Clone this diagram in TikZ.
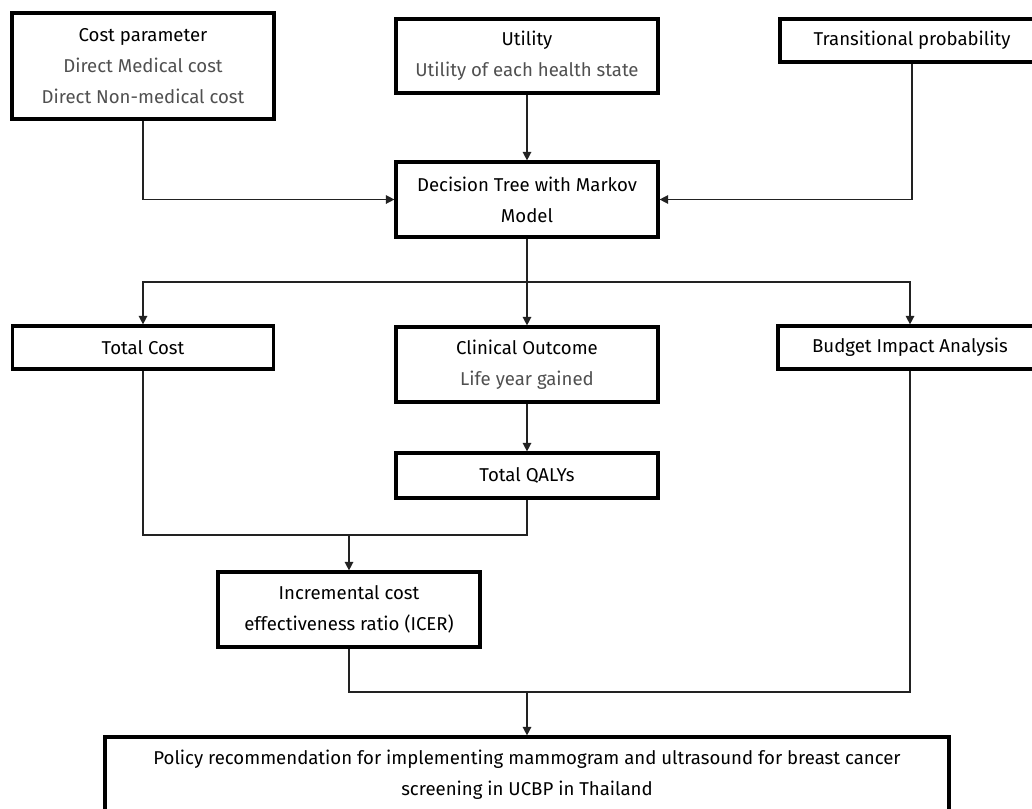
\documentclass[tikz,border=0pt]{standalone}
\usepackage{fontspec}
\setmainfont{Fira Sans}
\usetikzlibrary{arrows.meta}
\definecolor{subgray}{HTML}{505050}
\definecolor{linegray}{HTML}{222222}
\newcommand{\sub}[1]{\textcolor{subgray}{#1}}
\tikzset{
  box/.style={draw=black, line width=3.2pt, rectangle, inner sep=0pt,
    align=center, font=\fontsize{18.6}{31}\selectfont, text=black},
  conn/.style={line width=1.4pt, draw=linegray},
  arr/.style={conn, -{Triangle[length=8.5pt,width=8.5pt]}},
}
\begin{document}
\begin{tikzpicture}[x=1pt,y=-1pt]
\useasboundingbox (0,0) rectangle (1032,808);
\fill[white] (0,0) rectangle (1032,808);

\node[box, minimum width=262pt, minimum height=106pt] (cost) at (143,66)
  {Cost parameter\\ \sub{Direct Medical cost}\\ \sub{Direct Non-medical cost}};
\node[box, minimum width=262pt, minimum height=74pt] (util) at (527,56)
  {Utility\\ \sub{Utility of each health state}};
\node[box, minimum width=264pt, minimum height=43pt] (tp) at (912,40.5)
  {Transitional probability};
\node[box, minimum width=262pt, minimum height=75pt] (dec) at (527,199.5)
  {Decision Tree with Markov\\ Model};

\node[box, minimum width=261pt, minimum height=43pt] (tc) at (143,347.5)
  {Total Cost};
\node[box, minimum width=262pt, minimum height=75pt] (clin) at (527,364.5)
  {Clinical Outcome\\ \sub{Life year gained}};
\node[box, minimum width=264pt, minimum height=43pt] (bia) at (910,347.5)
  {Budget Impact Analysis};
\node[box, minimum width=262pt, minimum height=45pt] (qaly) at (527,475.5)
  {Total QALYs};
\node[box, minimum width=262pt, minimum height=75pt] (icer) at (349,609.5)
  {Incremental cost\\ effectiveness ratio (ICER)};
\node[box, minimum width=844pt, minimum height=76pt] (pol) at (527,775)
  {Policy recommendation for implementing mammogram and ultrasound for breast cancer\\ screening in UCBP in Thailand};

\coordinate (br) at (527,282);
\coordinate (j1) at (349,535);
\coordinate (j2) at (527,692);

\draw[arr] (cost.south) |- (dec.west);
\draw[arr] (util.south) -- (dec.north);
\draw[arr] (tp.south) |- (dec.east);

\draw[conn] (dec.south) -- (br);
\draw[arr] (br) -- (clin.north);
\draw[arr] (br) -| (tc.north);
\draw[arr] (br) -| (bia.north);

\draw[arr] (clin.south) -- (qaly.north);
\draw[conn] (tc.south) |- (j1);
\draw[conn] (qaly.south) |- (j1);
\draw[arr] (j1) -- (icer.north);

\draw[conn] (icer.south) |- (j2);
\draw[conn] (bia.south) |- (j2);
\draw[arr] (j2) -- (pol.north);
\end{tikzpicture}
\end{document}
